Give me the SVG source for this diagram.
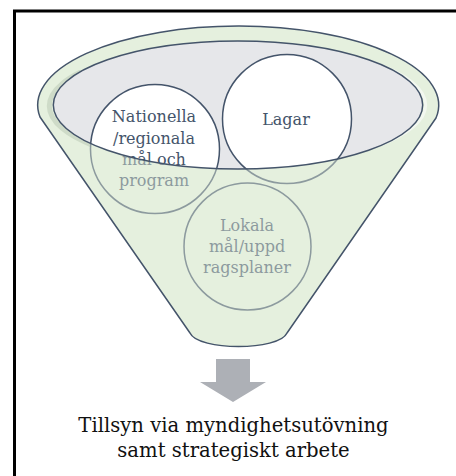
<svg xmlns="http://www.w3.org/2000/svg" width="456" height="476" viewBox="0 0 456 476">
  <style>
    text { font-family: "DejaVu Serif", "Noto Serif", "Liberation Serif", serif; text-anchor: middle; }
    .ct { font-size: 16px; fill: #44546a; }
    .bt { font-size: 19.6px; fill: #111111; }
    .ring { fill: none; stroke: #44546a; stroke-width: 1.5; }
    .wfill { fill: #ffffff; clip-path: url(#innerClip); }
  </style>
  <defs>
    <clipPath id="innerClip">
      <ellipse cx="238" cy="105" rx="184.7" ry="64"/>
    </clipPath>
    <clipPath id="leftClip">
      <rect x="30" y="70" width="60" height="80"/>
    </clipPath>
    <clipPath id="rightClip">
      <rect x="370" y="60" width="70" height="90"/>
    </clipPath>
  </defs>
  <rect x="0" y="0" width="456" height="476" fill="#ffffff"/>
  <rect id="frame" x="14.5" y="11" width="500" height="500" fill="none" stroke="#000000" stroke-width="3"/>

  <g id="funnel">
    <path id="funnel-body" d="M 40 117 L 190 333 C 198 351 279 351 287 333 L 436 118 A 200.5 79 0 1 0 40 117 Z" fill="#e5f0de"/>
    <ellipse cx="234" cy="106" rx="184.7" ry="61" fill="none" stroke="#bccbb6" stroke-width="5" clip-path="url(#leftClip)"/>
    <ellipse cx="241" cy="105" rx="184.7" ry="61" fill="none" stroke="#ffffff" stroke-width="3" clip-path="url(#rightClip)"/>
    <ellipse id="funnel-opening" cx="238" cy="105" rx="184.7" ry="64" fill="#e6e7ea"/>
  </g>

  <g id="node-nationella">
    <circle class="wfill" cx="155" cy="149" r="64.5"/>
    <circle class="ring" cx="155" cy="149" r="64.5"/>
    <text class="ct" x="154" y="122">Nationella</text>
    <text class="ct" x="154" y="144">/regionala</text>
    <text class="ct" x="154" y="165">mål och</text>
    <text class="ct" x="154" y="186">program</text>
  </g>

  <g id="node-lagar">
    <circle class="wfill" cx="287" cy="119" r="64.5"/>
    <circle class="ring" cx="287" cy="119" r="64.5"/>
    <text class="ct" x="286" y="125">Lagar</text>
  </g>

  <g id="node-lokala">
    <circle class="wfill" cx="247.5" cy="246.5" r="63.5"/>
    <circle class="ring" cx="247.5" cy="246.5" r="63.5"/>
    <text class="ct" x="247" y="231">Lokala</text>
    <text class="ct" x="247" y="252">mål/uppd</text>
    <text class="ct" x="247" y="273">ragsplaner</text>
  </g>

  <g id="funnel-overlay">
    <path fill="#e5f0de" fill-opacity="0.45" fill-rule="evenodd" d="M 40 117 L 190 333 C 198 351 279 351 287 333 L 436 118 A 200.5 79 0 1 0 40 117 Z M 53.3 105 A 184.7 64 0 1 0 422.7 105 A 184.7 64 0 1 0 53.3 105 Z"/>
    <path d="M 40 117 L 190 333 C 198 351 279 351 287 333 L 436 118 A 200.5 79 0 1 0 40 117 Z" fill="none" stroke="#44546a" stroke-width="1.5" stroke-linejoin="round"/>
    <ellipse cx="238" cy="105" rx="184.7" ry="64" fill="none" stroke="#44546a" stroke-width="1.5"/>
  </g>

  <g id="connectors">
    <polygon points="216,359 250,359 250,382 266,382 233,402 200,382 216,382" fill="#adb0b6"/>
  </g>

  <g id="node-result">
    <text class="bt" x="233.5" y="432">Tillsyn via myndighetsutövning</text>
    <text class="bt" x="233.5" y="457">samt strategiskt arbete</text>
  </g>
</svg>
